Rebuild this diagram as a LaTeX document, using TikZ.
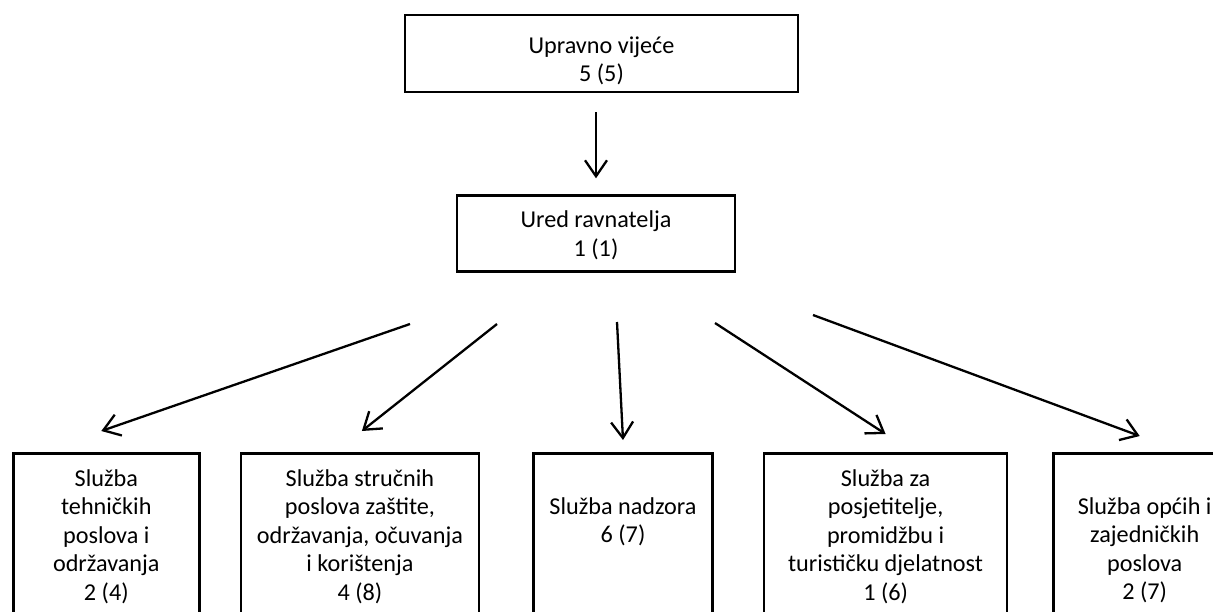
\documentclass[tikz,border=0pt]{standalone}
\usepackage{fontspec}
\setmainfont{Carlito}
\usetikzlibrary{arrows.meta,positioning,calc}

\begin{document}
\begin{tikzpicture}[x=1pt, y=-1pt, >={Straight Barb[length=16pt,width=22pt]}, line width=2.3pt,
	every node/.style={font=\fontsize{24.2}{28.5}\selectfont},
	unitbox/.style 2 args = {rectangle, draw, line width=2.6pt, align=center,
	                         inner xsep=2pt, inner ysep=0pt,
	                         text height=#1, text depth=#2},
	lowbox/.style 2 args = {unitbox={#1}{#2}, anchor=north}]
	\useasboundingbox (0,0) rectangle (1213,611);

	%% Management
	\node [unitbox={66.5pt}{10.5pt}, minimum width=393pt] (uprava) at (601.5,53.5)
	      {Upravno vijeće\\5 (5)};
	\node [unitbox={60.5pt}{15.5pt}, minimum width=278pt, below=101pt of uprava, xshift=-5.5pt] (ured)
	      {Ured ravnatelja\\1 (1)};

	%% Services
	\node [lowbox={147pt}{86pt}, minimum width=186pt, anchor=north west] (tehnicka) at (12,452)
	      {Služba\\tehničkih\\poslova i\\održavanja\\2 (4)};
	\node [lowbox={147pt}{86pt}, minimum width=238pt, right=39pt of tehnicka] (strucna)
	      {Služba stručnih\\poslova zaštite,\\održavanja, očuvanja\\i korištenja\\4 (8)};
	\node [lowbox={89.5pt}{143.5pt}, minimum width=179pt, right=52pt of strucna] (nadzor)
	      {Služba nadzora\\6 (7)};
	\node [lowbox={147pt}{86pt}, minimum width=243pt, right=49pt of nadzor] (posjet)
	      {Služba za\\posjetitelje,\\promidžbu i\\turističku djelatnost\\1 (6)};
	\node [lowbox={146.5pt}{86.5pt}, minimum width=182pt, right=44pt of posjet] (opci)
	      {Služba općih i\\zajedničkih\\poslova\\2 (7)};

	%% Free ends of the lower arrows
	\coordinate (s1) at (410,324);
	\coordinate (s2) at (497,324);
	\coordinate (s3) at (617,322);
	\coordinate (s4) at (715,323);
	\coordinate (s5) at (813,315);

	%% Arrows
	\draw[->, shorten <=19pt, shorten >=16pt] (uprava.south -| ured.north) -- (ured.north);
	\draw[->] (s1) -- ([xshift=-5pt,yshift=21pt]tehnicka.north);
	\draw[->] (s2) -- ([xshift=2pt,yshift=21pt]strucna.north);
	\draw[->] (s3) -- ([yshift=12pt]nadzor.north);
	\draw[->] (s4) -- ([yshift=18pt]posjet.north);
	\draw[->] (s5) -- ([xshift=-5pt,yshift=16pt]opci.north);
\end{tikzpicture}
\end{document}
